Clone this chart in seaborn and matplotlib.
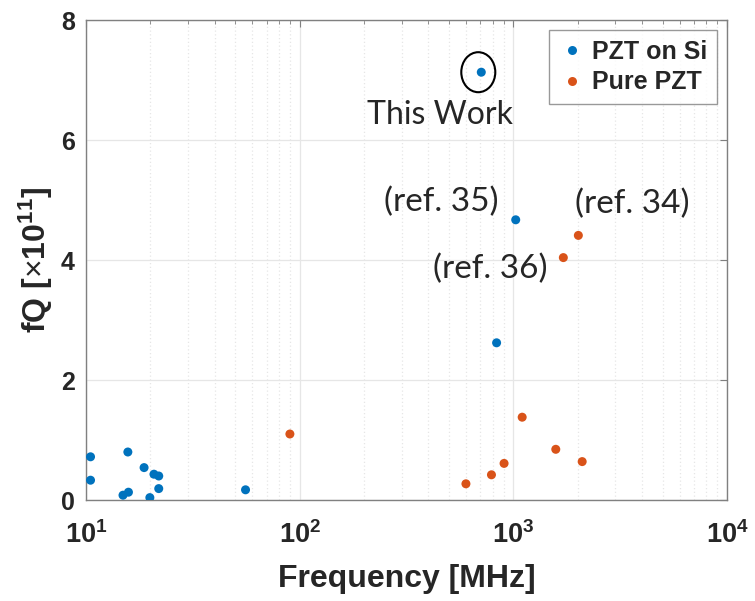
import numpy as np
import pandas as pd
import matplotlib
matplotlib.use("Agg")
import matplotlib.pyplot as plt
import matplotlib.transforms as mtransforms
from matplotlib.patches import Ellipse
from matplotlib.ticker import LogLocator, NullFormatter, FixedLocator
import seaborn as sns

# ---- data ----
si_freq = [10.5, 10.5, 15.7, 18.7, 20.8, 21.9, 21.9, 14.9, 15.8, 19.9, 55.8, 835, 1026, 708]
si_fq = [0.72, 0.33, 0.80, 0.54, 0.43, 0.40, 0.19, 0.08, 0.13, 0.04, 0.17, 2.62, 4.67, 7.13]
pure_freq = [90, 1100, 1580, 2100, 905, 790, 600, 1714, 2015]
pure_fq = [1.10, 1.38, 0.845, 0.64, 0.61, 0.42, 0.27, 4.04, 4.41]
series_names = ["PZT on Si", "Pure PZT"]
series_colors = ["#0072BD", "#D95319"]
x_ticks = [10, 100, 1000, 10000]
x_tick_labels = [r"$\mathbf{10^{1}}$", r"$\mathbf{10^{2}}$", r"$\mathbf{10^{3}}$", r"$\mathbf{10^{4}}$"]
y_ticks = [0, 2, 4, 6, 8]
y_tick_labels = ["0", "2", "4", "6", "8"]
this_work = (708, 7.13)
ref_labels = ["(ref. 35)", "(ref. 36)", "(ref. 34)"]

df = pd.DataFrame({
    "Frequency": si_freq + pure_freq,
    "fQ": si_fq + pure_fq,
    "Type": [series_names[0]] * len(si_freq) + [series_names[1]] * len(pure_freq),
})

sns.set_style("white")
plt.rcParams["font.family"] = ["Liberation Sans", "DejaVu Sans"]
plt.rcParams["mathtext.fontset"] = "custom"
plt.rcParams["mathtext.rm"] = "Liberation Sans"
plt.rcParams["mathtext.bf"] = "Liberation Sans:bold"
plt.rcParams["mathtext.it"] = "Liberation Sans:bold:italic"

fig = plt.figure(figsize=(7.55, 6.01), dpi=100)
ax = fig.add_axes([86 / 755, 1 - 500 / 601, (727 - 86) / 755, (500 - 20) / 601])

sns.scatterplot(data=df, x="Frequency", y="fQ", hue="Type",
                palette=dict(zip(series_names, series_colors)),
                s=42, edgecolor="none", ax=ax, zorder=3)

ax.set_xscale("log")
ax.set_xlim(10, 10000)
ax.set_ylim(0, 8)
ax.xaxis.set_major_locator(FixedLocator(x_ticks))
ax.set_xticklabels(x_tick_labels)
ax.xaxis.set_minor_locator(LogLocator(base=10, subs=np.arange(2, 10)))
ax.xaxis.set_minor_formatter(NullFormatter())
ax.set_yticks(y_ticks)
ax.set_yticklabels(y_tick_labels)

ax.grid(True, which="major", axis="both", color="#e6e6e6", lw=0.9, ls="-", zorder=0)
ax.grid(True, which="minor", axis="x", color="#e6e6e6", lw=0.9, ls=(0, (1, 2)), zorder=0)
ax.set_axisbelow(True)

for sp in ax.spines.values():
    sp.set_color("#808080")
    sp.set_linewidth(1.0)
ax.tick_params(which="both", direction="in", top=True, right=True, colors="#808080",
               labelcolor="#262626", labelsize=18)
ax.tick_params(axis="x", labelsize=19.5, pad=15)
ax.tick_params(axis="y", pad=8)
ax.tick_params(which="major", length=5)
ax.tick_params(which="minor", length=3)
for lbl in ax.get_yticklabels():
    lbl.set_fontweight("bold")

ax.set_xlabel("Frequency [MHz]", fontsize=23, fontweight="bold", color="#262626", labelpad=11)
ax.set_ylabel(r"fQ [$\times$$\mathbf{10^{11}}$]", fontsize=23, fontweight="bold",
              color="#262626", labelpad=4)

leg = ax.legend(loc="upper right", frameon=True, fancybox=False, fontsize=18,
                handletextpad=0.3, borderpad=0.4, labelspacing=0.25,
                handlelength=1.0, borderaxespad=0.4, markerscale=1.0)
leg.get_frame().set_edgecolor("#808080")
leg.get_frame().set_linewidth(1.0)
for t in leg.get_texts():
    t.set_fontweight("bold")

# annotations
ann_font = ["Lato", "DejaVu Sans"]
ax.text(this_work[0], this_work[1], "This Work", family=ann_font, fontsize=23,
        ha="right", va="center",
        transform=ax.transData + mtransforms.ScaledTranslation(0.32, -0.43, fig.dpi_scale_trans))
ell = Ellipse((0, 0), 0.34, 0.40, fill=False, edgecolor="black", lw=1.5,
              transform=fig.dpi_scale_trans + mtransforms.ScaledTranslation(
                  this_work[0], this_work[1], ax.transData) + mtransforms.ScaledTranslation(-0.03, 0, fig.dpi_scale_trans))
ax.add_patch(ell)

ref_anchor = [(si_freq[12], si_fq[12]), (pure_freq[7], pure_fq[7]), (pure_freq[8], pure_fq[8])]
ref_offsets = [(-0.17, 0.18, "right"), (-0.16, -0.11, "right"), (-0.03, 0.31, "left")]
for lab, (xx, yy), (dx, dy, ha) in zip(ref_labels, ref_anchor, ref_offsets):
    ax.text(xx, yy, lab, family=ann_font, fontsize=24, ha=ha, va="center",
            transform=ax.transData + mtransforms.ScaledTranslation(dx, dy, fig.dpi_scale_trans))

fig.savefig("out.png", dpi=100)
